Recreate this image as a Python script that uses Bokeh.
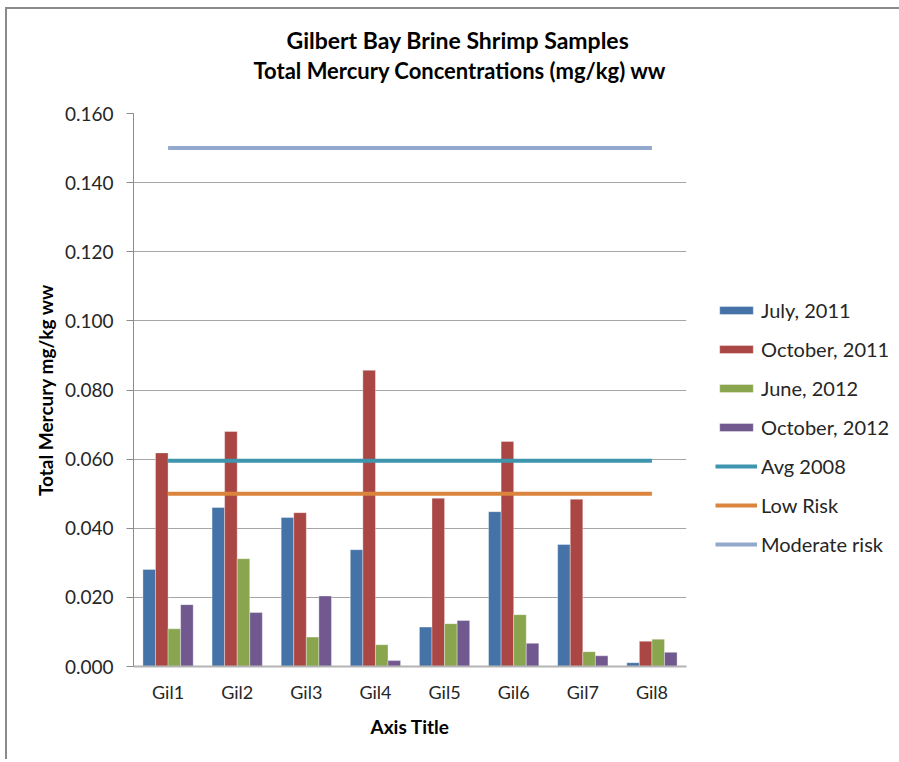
from bokeh.plotting import figure
from bokeh.models import (FactorRange, Range1d, FixedTicker, NumeralTickFormatter,
                          Legend, LegendItem, Title, ColumnDataSource)
from bokeh.transform import dodge
from bokeh.embed import file_html
from bokeh.resources import INLINE

categories = ["Gil1", "Gil2", "Gil3", "Gil4", "Gil5", "Gil6", "Gil7", "Gil8"]
july_2011 = [0.0281, 0.0460, 0.0431, 0.0338, 0.0114, 0.0448, 0.0353, 0.0011]
october_2011 = [0.0618, 0.0680, 0.0445, 0.0857, 0.0487, 0.0651, 0.0484, 0.0073]
june_2012 = [0.0109, 0.0312, 0.0085, 0.0063, 0.0124, 0.0150, 0.0043, 0.0079]
october_2012 = [0.0179, 0.0156, 0.0204, 0.0017, 0.0133, 0.0067, 0.0031, 0.0041]
avg_2008 = [0.0595, 0.0595, 0.0595, 0.0595, 0.0595, 0.0595, 0.0595, 0.0595]
low_risk = [0.050, 0.050, 0.050, 0.050, 0.050, 0.050, 0.050, 0.050]
moderate_risk = [0.150, 0.150, 0.150, 0.150, 0.150, 0.150, 0.150, 0.150]
y_ticks = [0.000, 0.020, 0.040, 0.060, 0.080, 0.100, 0.120, 0.140, 0.160]

bar_series = [("July, 2011", july_2011, "#4572A7"),
              ("October, 2011", october_2011, "#AA4643"),
              ("June, 2012", june_2012, "#89A54E"),
              ("October, 2012", october_2012, "#71588F")]
line_series = [("Avg 2008", avg_2008, "#3D96AE"),
               ("Low Risk", low_risk, "#DB843D"),
               ("Moderate risk", moderate_risk, "#92A8CD")]

src = ColumnDataSource(dict(cat=categories, s0=july_2011, s1=october_2011,
                            s2=june_2012, s3=october_2012,
                            l0=avg_2008, l1=low_risk, l2=moderate_risk))

FONT = "Lato"
TXT = "#262626"

p = figure(x_range=FactorRange(factors=categories, range_padding=0),
           y_range=Range1d(0, 0.16),
           frame_width=553, frame_height=553,
           min_border_left=126, min_border_right=204,
           min_border_top=104, min_border_bottom=93,
           output_backend="svg", toolbar_location=None)
p.outline_line_color = None
p.background_fill_color = "white"
p.border_fill_color = "white"
p.styles = {"margin-left": "5px", "margin-top": "7px",
            "border-left": "2px solid #8a8a8a", "border-top": "2px solid #8a8a8a"}

bw = 0.1818
offsets = [-1.5 * bw, -0.5 * bw, 0.5 * bw, 1.5 * bw]
items = []
for i, (name, vals, col) in enumerate(bar_series):
    r = p.vbar(x=dodge("cat", offsets[i], range=p.x_range), top="s%d" % i, bottom=0,
               width=bw, source=src, fill_color=col, line_color="white", line_alpha=0.35,
               line_width=1)
    items.append(LegendItem(label=name, renderers=[r]))
for i, (name, vals, col) in enumerate(line_series):
    r = p.line(x="cat", y="l%d" % i, source=src, line_color=col, line_width=4)
    items.append(LegendItem(label=name, renderers=[r]))

p.xgrid.visible = False
p.ygrid.grid_line_color = "#a6a6a6"
p.ygrid.ticker = FixedTicker(ticks=y_ticks)

ya = p.yaxis[0]
ya.ticker = FixedTicker(ticks=y_ticks)
ya.formatter = NumeralTickFormatter(format="0.000")
ya.axis_line_color = "#8c8c8c"
ya.major_tick_line_color = "#8c8c8c"
ya.major_tick_out = 7
ya.major_tick_in = 0
ya.minor_tick_line_color = None
ya.major_label_standoff = 13
ya.major_label_text_font = FONT
ya.major_label_text_font_size = "19px"
ya.major_label_text_color = TXT
ya.axis_label = "Total Mercury mg/kg ww"
ya.axis_label_text_font = FONT
ya.axis_label_text_font_style = "bold"
ya.axis_label_text_font_size = "19px"
ya.axis_label_text_color = "black"
ya.axis_label_standoff = 5

xa = p.xaxis[0]
xa.axis_line_color = "#b4b4b4"
xa.axis_line_width = 2
xa.major_tick_out = 0
xa.major_tick_in = 0
xa.major_tick_line_color = None
xa.minor_tick_line_color = None
xa.major_label_standoff = 14
xa.major_label_text_font = FONT
xa.major_label_text_font_size = "18px"
xa.major_label_text_color = TXT
xa.axis_label = "Axis Title"
xa.axis_label_text_font = FONT
xa.axis_label_text_font_style = "bold"
xa.axis_label_text_font_size = "19px"
xa.axis_label_text_color = "black"
xa.axis_label_standoff = 9

legend = Legend(items=items, location=(29, 110), padding=0, margin=0, spacing=15,
                label_height=20, glyph_height=10, glyph_width=42, label_standoff=4,
                label_text_font=FONT, label_text_font_size="20px", label_text_color=TXT,
                border_line_color=None, background_fill_alpha=0)
p.add_layout(legend, "right")

# spacer between the frame and the two title lines
p.add_layout(Title(text=" ", text_font_size="1px", standoff=25), "above")
p.add_layout(Title(text="Total Mercury Concentrations (mg/kg) ww", align="left", offset=120,
                   standoff=3, text_font=FONT, text_font_style="bold",
                   text_font_size="22px", text_color="black"), "above")
p.add_layout(Title(text="Gilbert Bay Brine Shrimp Samples", align="left", offset=153,
                   standoff=0, text_font=FONT, text_font_style="bold",
                   text_font_size="23px", text_color="black"), "above")

open("out.html", "w").write(file_html(p, INLINE))
